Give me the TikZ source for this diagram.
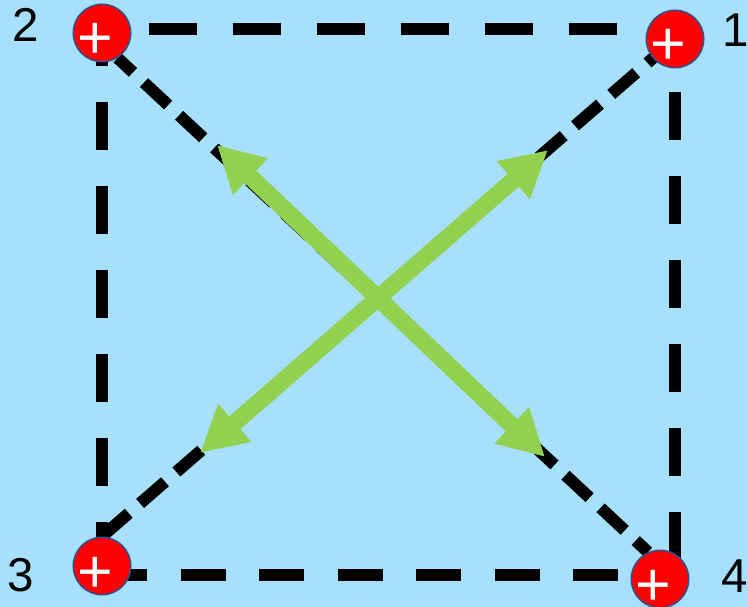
\documentclass[tikz,border=0pt]{standalone}
\usepackage{fontspec}
\setmainfont{Liberation Sans}
\usepackage{xcolor}
\usepackage{tikz}
\usetikzlibrary{arrows.meta}
\definecolor{skyblue}{RGB}{166,224,252}
\definecolor{chargered}{RGB}{255,0,0}
\definecolor{rimblue}{RGB}{47,82,143}
\definecolor{forcegreen}{RGB}{146,208,80}
\pgfdeclarelayer{back}
\pgfdeclarelayer{wires}
\pgfsetlayers{back,wires,main}
\newcommand{\chargesign}{\makebox[0pt]{\hspace*{-13pt}+}}

\begin{document}
\begin{tikzpicture}[
    x=1pt, y=-1pt,
    charge/.style={circle, fill=chargered, draw=rimblue, line width=1.5pt, minimum size=57.5pt, inner sep=0pt, text=white, font=\fontsize{61}{61}\selectfont, text height=52pt, text depth=0pt},
    numlabel/.style={inner sep=0pt, font=\fontsize{47.5}{47.5}\selectfont},
    sideline/.style={line width=12pt, dash pattern=on 48pt off 36pt},
    diagline/.style={line width=12pt, dash pattern=on 33pt off 15pt},
    force/.style={forcegreen, line width=17pt, >={Triangle[length=46pt,width=47pt]}, <->}
]
\useasboundingbox (0,0) rectangle (748,607);
\begin{pgfonlayer}{back}
\fill[skyblue] (0,0) rectangle (748,607);
\end{pgfonlayer}

\node[charge] (q1) at (675,39) {\chargesign};
\node[charge] (q2) at (102,33) {\chargesign};
\node[charge] (q3) at (102,566) {\chargesign};
\node[charge] (q4) at (660,579) {\chargesign};

\node[numlabel] (n1) at (736,30) {1};
\node[numlabel] (n2) at (26,25) {2};
\node[numlabel] (n3) at (21,575) {3};
\node[numlabel] (n4) at (735,576) {4};

\coordinate (sq1) at (675,29);
\coordinate (sq2) at (102,29);
\coordinate (sq3) at (102,575);
\coordinate (sq4) at (675,575);

\begin{pgfonlayer}{wires}
\draw[sideline, dash phase=37pt] (sq2) -- (sq1);
\draw[sideline, dash phase=21pt] (sq1) -- (sq4);
\draw[sideline, dash phase=11pt] (sq2) -- (sq3);
\draw[sideline, dash pattern=on 45pt off 33.5pt] (sq3) -- (sq4);
\draw[diagline, dash phase=12pt] (q2.-58) -- (q4.114);
\draw[diagline, dash phase=44.6pt] (q1.center) -- (q3.north);
\end{pgfonlayer}

\coordinate (fa1) at (217,145);
\coordinate (fa2) at (545,457);
\coordinate (fb1) at (548,150);
\coordinate (fb2) at (200,453);

\draw[force] (fa1) -- (fa2);
\draw[force] (fb1) -- (fb2);

\end{tikzpicture}
\end{document}
